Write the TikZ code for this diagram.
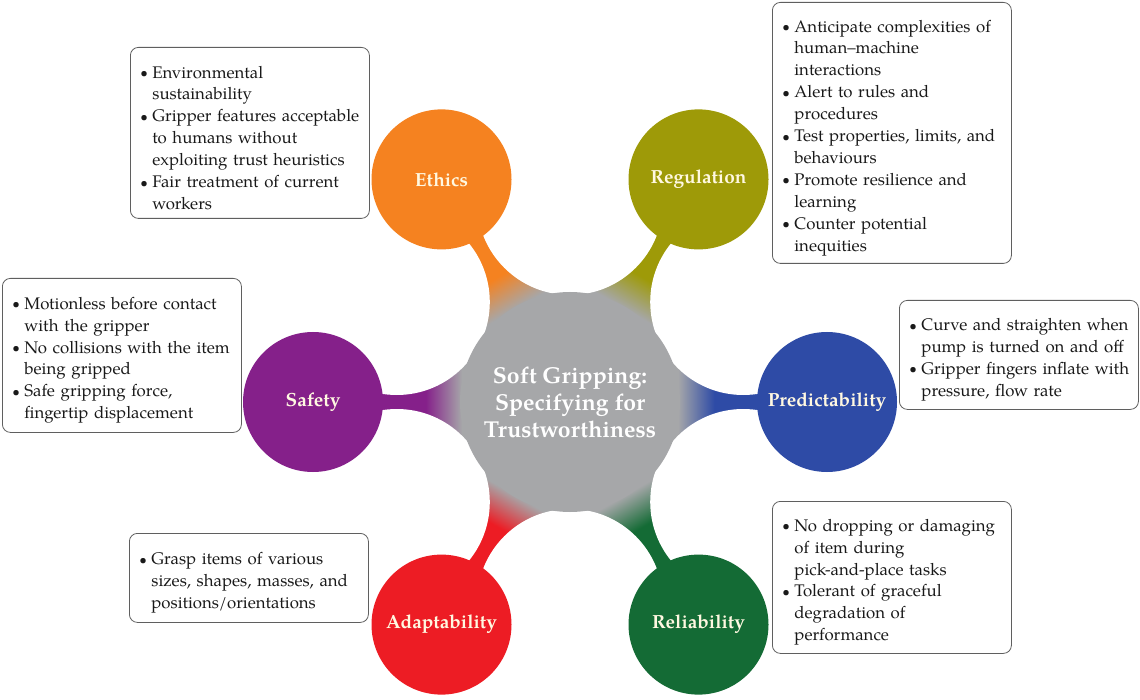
\documentclass[tikz,border=0pt]{standalone}
\usepackage{fontspec}
\setmainfont{TeX Gyre Pagella}
\usetikzlibrary{calc}

\definecolor{cgray}{RGB}{166,167,169}
\definecolor{cethics}{RGB}{245,130,32}
\definecolor{creg}{RGB}{158,154,8}
\definecolor{csafe}{RGB}{133,32,138}
\definecolor{cpred}{RGB}{46,75,166}
\definecolor{cadapt}{RGB}{237,28,36}
\definecolor{creli}{RGB}{20,107,53}
\definecolor{ctext}{RGB}{255,248,225}
\definecolor{cbord}{RGB}{95,95,95}
\definecolor{cbody}{RGB}{25,25,25}

\newcommand\bu[1]{\makebox[12pt][l]{\raisebox{0.5pt}{\scalebox{0.8}{\textbullet}}}\mbox{#1}}
\newcommand\ci[1]{\hspace*{12pt}\mbox{#1}}
\newcommand\toppad{\rule{0pt}{22pt}}

\newcommand\declarearm[1]{%
  \pgfdeclarehorizontalshading{arm#1}{100bp}{color(0bp)=(cgray); color(40bp)=(cgray); color(47bp)=(#1); color(100bp)=(#1)}}
\declarearm{cethics}
\declarearm{creg}
\declarearm{csafe}
\declarearm{cpred}
\declarearm{cadapt}
\declarearm{creli}

\tikzset{
  sat/.style={circle, minimum size=140pt, inner sep=0pt, text=ctext,
    font=\fontsize{19}{22}\selectfont\bfseries},
  hub/.style={circle, fill=cgray, minimum size=220pt, inner sep=0pt, text=white,
    align=center, font=\fontsize{23}{27}\selectfont\bfseries},
  infobox/.style={draw=cbord, line width=0.8pt, rounded corners=8pt, fill=white,
    anchor=north west, minimum width=239pt, text width=219pt, inner xsep=10pt,
    inner ysep=3pt, align=left, text=cbody, font=\fontsize{16.8}{21.9}\selectfont},
  gapdisc/.style={fill=white},
}

\newcommand\armshape[2]{%
  \begin{scope}[transform canvas={shift={(c)}, rotate=#1}]
    \shade[shading=arm#2]
      (30,-20) -- (210,-95) -- (290,-30) -- (290,30) -- (210,95) -- (30,20) -- cycle;
  \end{scope}}

\begin{document}
\begin{tikzpicture}[x=1pt,y=-1pt]
\useasboundingbox (0,0) rectangle (1140,700);
\coordinate (c) at (570,402);

% arms
\armshape{0}{cpred}
\armshape{60}{creg}
\armshape{120}{cethics}
\armshape{180}{csafe}
\armshape{240}{cadapt}
\armshape{300}{creli}

% white discs carving the necks
\foreach \a in {30,90,150,210,270,330}
  \fill[gapdisc] ($(c)+(\a:200)$) circle (93pt);

% hub and satellites
\node[hub] (hub) at (c) {Soft Gripping:\\Specifying for\\Trustworthiness};
\node[sat, fill=cethics] (ethics) at (441.5,179.4) {Ethics};
\node[sat, fill=creg] (reg) at (698.5,179.4) {Regulation};
\node[sat, fill=csafe] (safety) at (313,402) {Safety};
\node[sat, fill=cpred] (pred) at (827,402) {Predictability};
\node[sat, fill=cadapt] (adapt) at (441.5,624.6) {Adaptability};
\node[sat, fill=creli] (reli) at (698.5,624.6) {Reliability};

% boxes
\node[infobox, minimum height=171pt] (ethicsbox) at (130,47) {\toppad
\bu{Environmental}\\\ci{sustainability}\\\bu{Gripper features acceptable}\\\ci{to humans without}\\\ci{exploiting trust heuristics}\\\bu{Fair treatment of current}\\\ci{workers}};

\node[infobox, minimum height=261pt] (regbox) at (772,2) {\toppad
\bu{Anticipate complexities of}\\\ci{human–machine}\\\ci{interactions}\\\bu{Alert to rules and}\\\ci{procedures}\\\bu{Test properties, limits, and}\\\ci{behaviours}\\\bu{Promote resilience and}\\\ci{learning}\\\bu{Counter potential}\\\ci{inequities}};

\node[infobox, minimum height=154pt] (safetybox) at (2,278) {\toppad
\bu{Motionless before contact}\\\ci{with the gripper}\\\bu{No collisions with the item}\\\ci{being gripped}\\\bu{Safe gripping force,}\\\ci{fingertip displacement}};

\node[infobox, minimum height=109pt] (predbox) at (899,300) {\toppad
\bu{Curve and straighten when}\\\ci{pump is turned on and off}\\\bu{Gripper fingers inflate with}\\\ci{pressure, flow rate}};

\node[infobox, minimum height=89pt] (adaptbox) at (129,533) {\toppad
\bu{Grasp items of various}\\\ci{sizes, shapes, masses, and}\\\ci{positions/orientations}};

\node[infobox, minimum height=152pt] (relibox) at (772,501) {\toppad
\bu{No dropping or damaging}\\\ci{of item during}\\\ci{pick-and-place tasks}\\\bu{Tolerant of graceful}\\\ci{degradation of}\\\ci{performance}};
\end{tikzpicture}
\end{document}
